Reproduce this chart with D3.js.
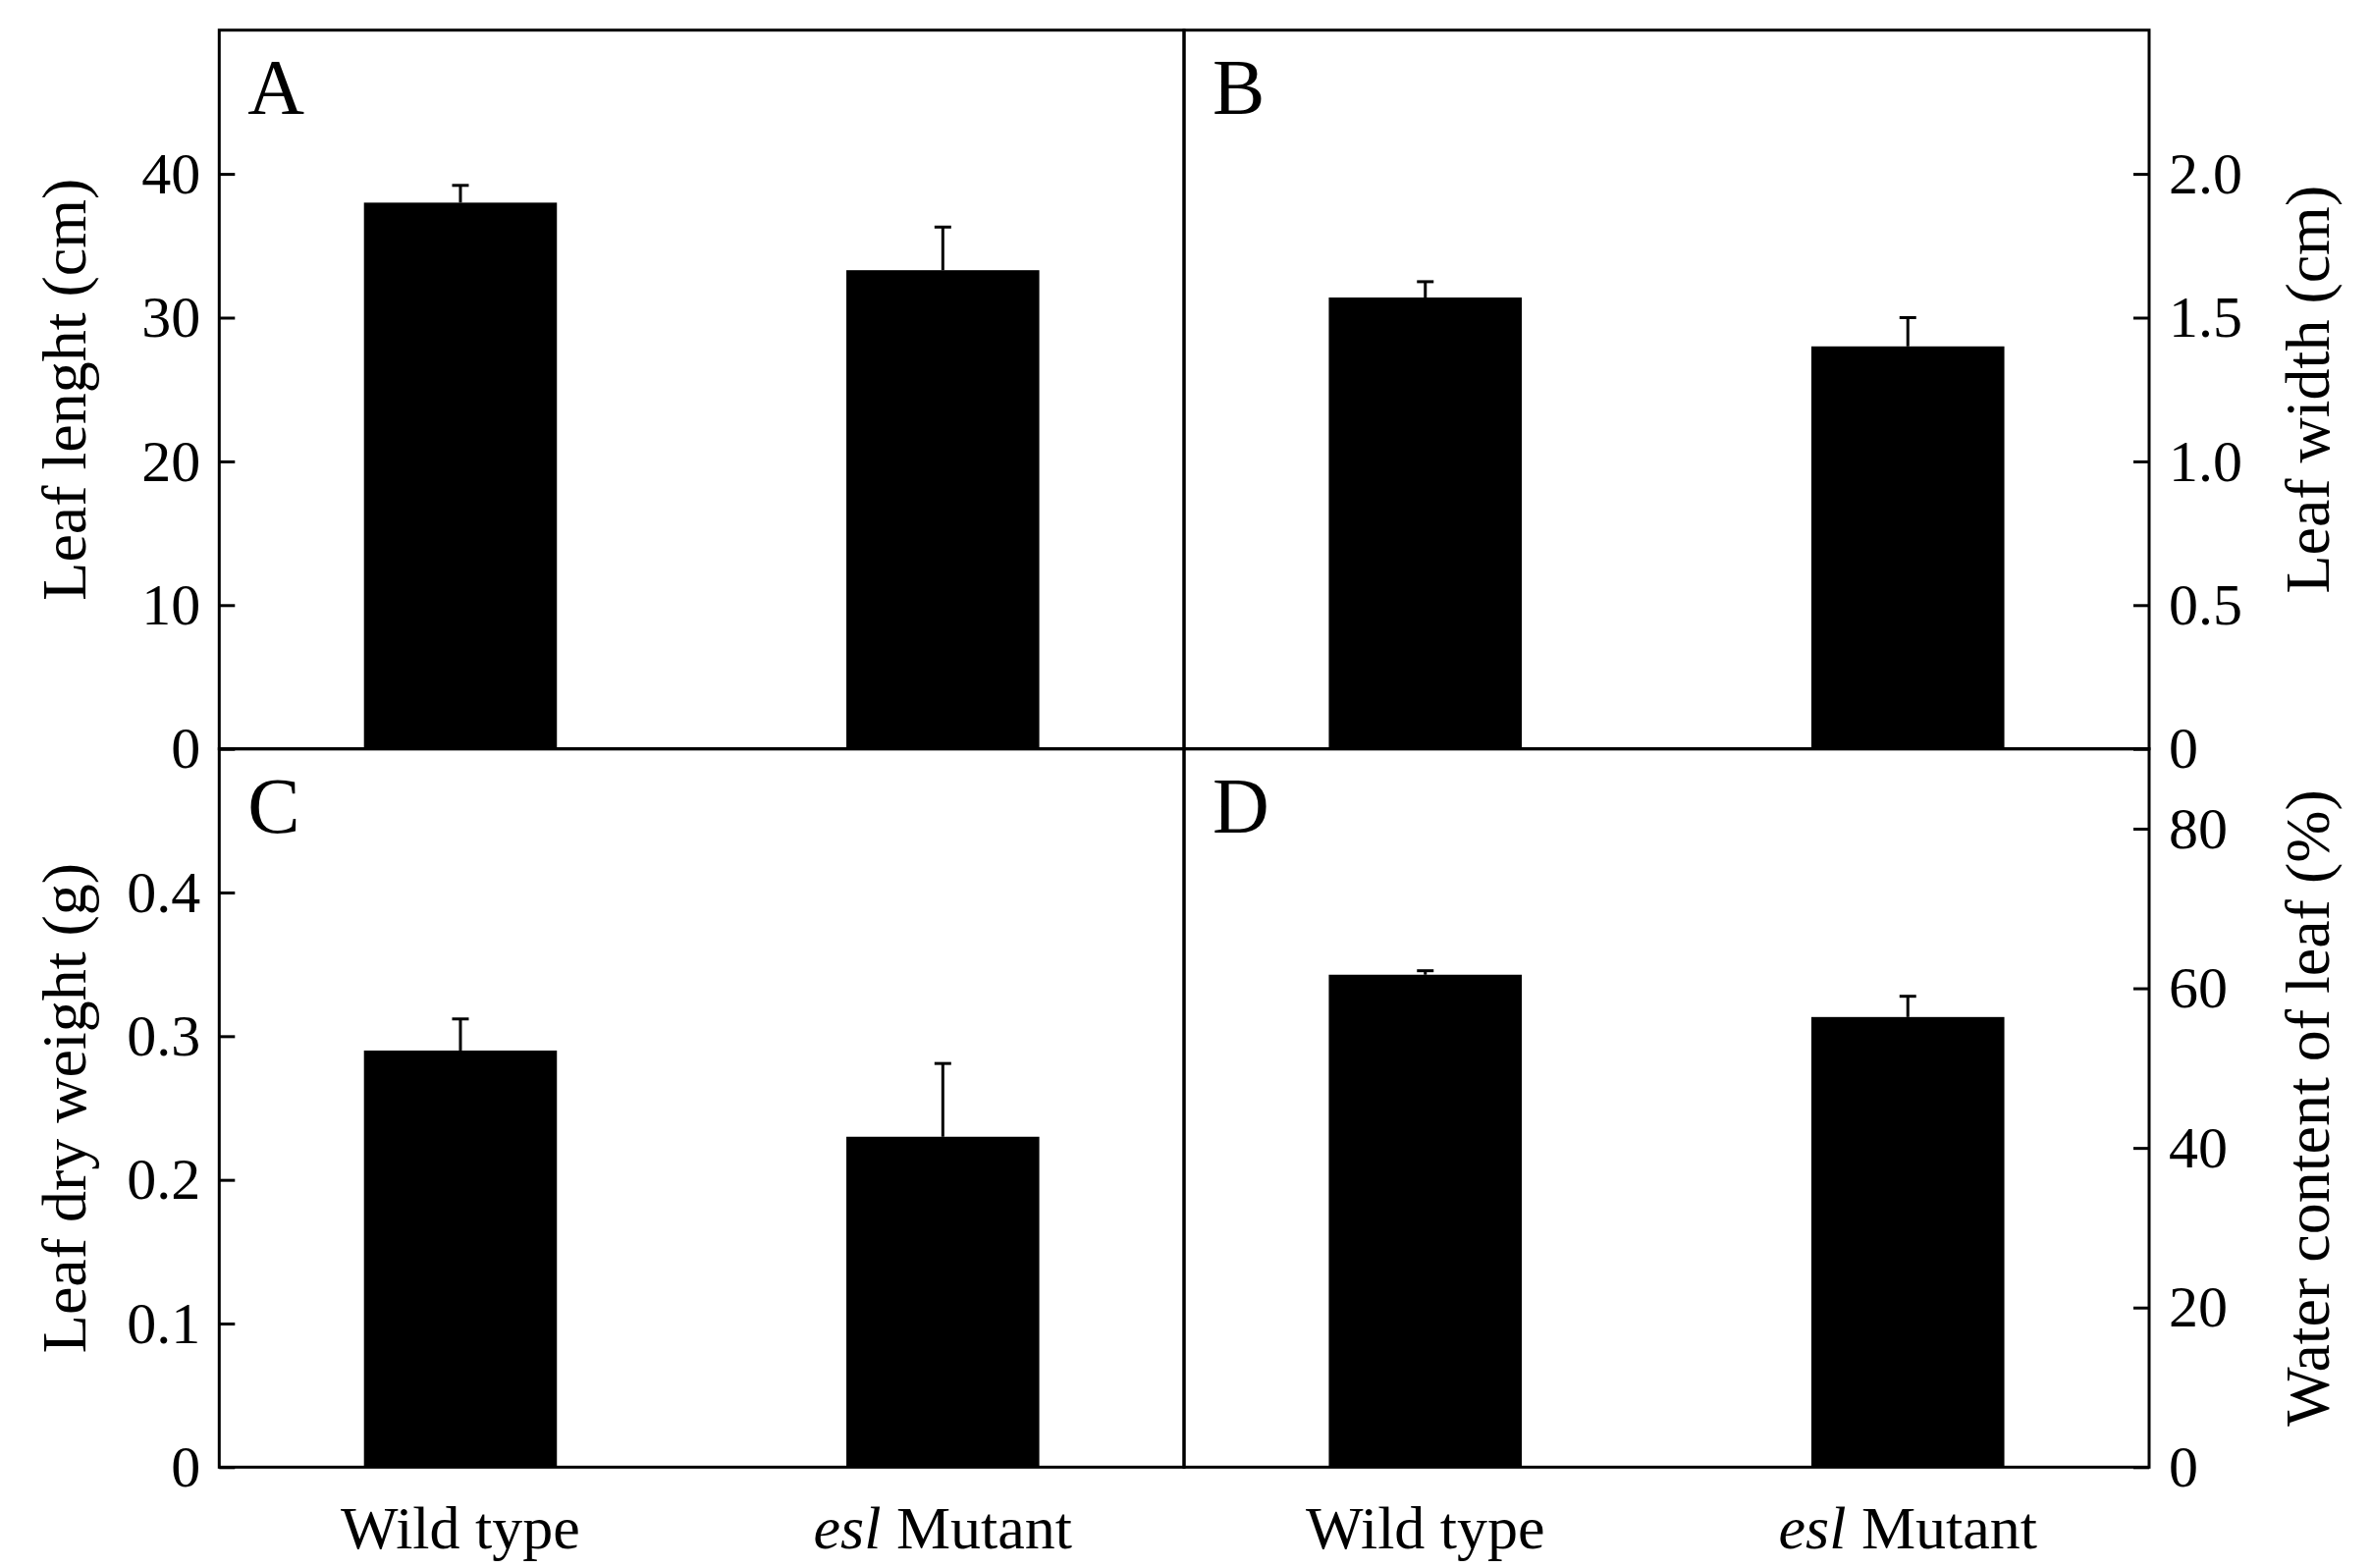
<!DOCTYPE html>
<html>
<head>
<meta charset="utf-8">
<script src="https://cdn.jsdelivr.net/npm/d3@7"></script>
<style>
  html, body { margin: 0; padding: 0; background: #fff; }
  svg { display: block; }
  text { font-family: "Liberation Serif", "Times New Roman", serif; fill: #000; }
</style>
</head>
<body>
<svg id="chart" width="2415" height="1597"></svg>
<script>
// ---------- data ----------
const categories = ["Wild type", "esl Mutant"];

const lengthMean = [38.0, 33.3];
const lengthErr  = [1.2, 3.0];

const widthMean = [1.57, 1.40];
const widthErr  = [0.055, 0.10];

const dryMean = [0.29, 0.23];
const dryErr  = [0.022, 0.051];

const waterMean = [61.7, 56.4];
const waterErr  = [0.5, 2.6];

const lengthTicks = [0, 10, 20, 30, 40];
const widthTicks  = [0, 0.5, 1.0, 1.5, 2.0];
const dryTicks    = [0, 0.1, 0.2, 0.3, 0.4];
const waterTicks  = [0, 20, 40, 60, 80];

const panelLetters = ["A", "B", "C", "D"];
const yTitles = ["Leaf lenght (cm)", "Leaf width (cm)", "Leaf dry weight (g)", "Water content of leaf (%)"];
const yMax = [50, 2.5, 0.5, 90];

// ---------- layout ----------
const X0 = 223.3, X1 = 1206, X2 = 2189;
const Y0 = 30.7, Y1 = 762.7, Y2 = 1494.3;

const fmtInt = d => d === 0 ? "0" : d3.format("d")(d);
const fmt1 = d => d === 0 ? "0" : d3.format(".1f")(d);

const panels = [
  { letter: panelLetters[0], title: yTitles[0], mean: lengthMean, err: lengthErr, ticks: lengthTicks, max: yMax[0], fmt: fmtInt,
    x0: X0, x1: X1, y0: Y0, y1: Y1, side: "left" },
  { letter: panelLetters[1], title: yTitles[1], mean: widthMean, err: widthErr, ticks: widthTicks, max: yMax[1], fmt: fmt1,
    x0: X1, x1: X2, y0: Y0, y1: Y1, side: "right" },
  { letter: panelLetters[2], title: yTitles[2], mean: dryMean, err: dryErr, ticks: dryTicks, max: yMax[2], fmt: fmt1,
    x0: X0, x1: X1, y0: Y1, y1: Y2, side: "left" },
  { letter: panelLetters[3], title: yTitles[3], mean: waterMean, err: waterErr, ticks: waterTicks, max: yMax[3], fmt: fmtInt,
    x0: X1, x1: X2, y0: Y1, y1: Y2, side: "right" }
];

const svg = d3.select("#chart");

panels.forEach(p => {
  const x = d3.scaleBand().domain(categories).range([p.x0, p.x1]).paddingInner(0.6).paddingOuter(0.3);
  const y = d3.scaleLinear().domain([0, p.max]).range([p.y1, p.y0]);
  const g = svg.append("g");

  // bars
  g.selectAll("rect.bar").data(categories).join("rect")
    .attr("class", "bar")
    .attr("x", d => x(d))
    .attr("width", x.bandwidth())
    .attr("y", (d, i) => y(p.mean[i]))
    .attr("height", (d, i) => y(0) - y(p.mean[i]))
    .attr("fill", "#000");

  // error bars (upper only)
  const capW = 17;
  g.selectAll("line.err").data(categories).join("line")
    .attr("class", "err")
    .attr("x1", d => x(d) + x.bandwidth() / 2)
    .attr("x2", d => x(d) + x.bandwidth() / 2)
    .attr("y1", (d, i) => y(p.mean[i]))
    .attr("y2", (d, i) => y(p.mean[i] + p.err[i]))
    .attr("stroke", "#000").attr("stroke-width", 3);
  g.selectAll("line.cap").data(categories).join("line")
    .attr("class", "cap")
    .attr("x1", d => x(d) + x.bandwidth() / 2 - capW / 2)
    .attr("x2", d => x(d) + x.bandwidth() / 2 + capW / 2)
    .attr("y1", (d, i) => y(p.mean[i] + p.err[i]))
    .attr("y2", (d, i) => y(p.mean[i] + p.err[i]))
    .attr("stroke", "#000").attr("stroke-width", 3);

  // axis
  const axis = (p.side === "left" ? d3.axisLeft(y) : d3.axisRight(y))
    .tickValues(p.ticks).tickFormat(p.fmt)
    .tickSizeInner(-16).tickSizeOuter(0).tickPadding(p.side === "left" ? 19 : 20);
  const ag = g.append("g")
    .attr("transform", `translate(${p.side === "left" ? p.x0 : p.x1},0)`)
    .call(axis);
  ag.select(".domain").remove();
  ag.selectAll(".tick line").attr("stroke", "#000").attr("stroke-width", 3);
  ag.selectAll(".tick text")
    .attr("font-family", "Liberation Serif, Times New Roman, serif")
    .attr("font-size", 60).attr("fill", "#000");
  ag.attr("font-family", null).attr("font-size", null);

  // frame
  g.append("rect")
    .attr("x", p.x0).attr("y", p.y0)
    .attr("width", p.x1 - p.x0).attr("height", p.y1 - p.y0)
    .attr("fill", "none").attr("stroke", "#000").attr("stroke-width", 3);

  // panel letter
  g.append("text")
    .attr("x", p.x0 + 29).attr("y", p.y0 + 85)
    .attr("font-size", 80)
    .text(p.letter);

  // y title
  const tx = p.side === "left" ? 87 : 2372;
  g.append("text")
    .attr("transform", `translate(${tx},${(p.y0 + p.y1) / 2}) rotate(-90)`)
    .attr("text-anchor", "middle")
    .attr("font-size", 64)
    .text(p.title);

  // x labels on bottom row
  if (p.y1 === Y2) {
    const xl = g.selectAll("text.xlab").data(categories).join("text")
      .attr("class", "xlab")
      .attr("x", d => x(d) + x.bandwidth() / 2)
      .attr("y", 1577)
      .attr("text-anchor", "middle")
      .attr("font-size", 62);
    xl.each(function(d) {
      const t = d3.select(this);
      if (d.startsWith("esl")) {
        t.append("tspan").attr("font-style", "italic").text("esl");
        t.append("tspan").text(d.slice(3));
      } else {
        t.text(d);
      }
    });
  }
});
</script>
</body>
</html>
